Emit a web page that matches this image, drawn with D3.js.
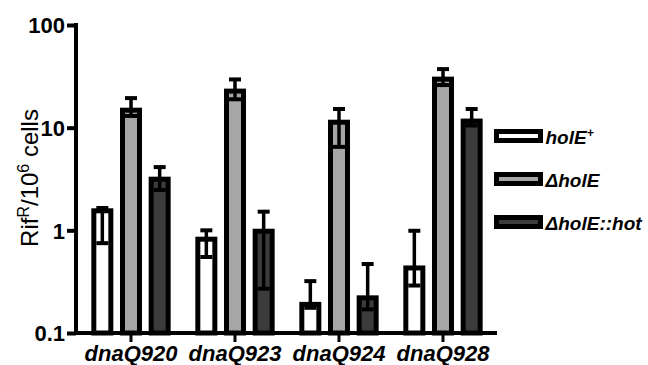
<!DOCTYPE html>
<html>
<head>
<meta charset="utf-8">
<script src="https://cdn.jsdelivr.net/npm/d3@7"></script>
<style>
  body { margin: 0; background: #fff; }
  svg { font-family: "Liberation Sans", Arial, sans-serif; }
</style>
</head>
<body>
<div id="chart"></div>
<script>
const strains = ['dnaQ920', 'dnaQ923', 'dnaQ924', 'dnaQ928'];
const series = ['holE+', 'ΔholE', 'ΔholE::hot'];
const colors = ['#ffffff', '#a6a6a6', '#3c3c3c'];
// mean values per series (one entry per strain)
const holEPlus = [1.55, 0.82, 0.19, 0.43];
const deltaHolE = [14.8, 22.7, 11.3, 29.7];
const deltaHolEHot = [3.15, 0.98, 0.22, 11.6];
// error bar ends (low / high)
const holEPlusLo = [0.75, 0.55, 0.176, 0.29];
const holEPlusHi = [1.65, 1.0, 0.32, 0.99];
const deltaHolELo = [13.0, 18.9, 6.5, 26];
const deltaHolEHi = [19.4, 29.5, 15.2, 37.2];
const deltaHolEHotLo = [2.47, 0.27, 0.17, 10.5];
const deltaHolEHotHi = [4.13, 1.52, 0.47, 15.2];
const yTicks = [0.1, 1, 10, 100];

const values = [holEPlus, deltaHolE, deltaHolEHot];
const lows = [holEPlusLo, deltaHolELo, deltaHolEHotLo];
const highs = [holEPlusHi, deltaHolEHi, deltaHolEHotHi];

const W = 648, H = 365;
const svg = d3.select('#chart').append('svg').attr('width', W).attr('height', H);

const y = d3.scaleLog().domain([0.1, 100]).range([333, 25]);
const x = d3.scaleBand().domain(strains).range([79, 495]);
const xs = d3.scaleBand().domain(series).range([-43, 43]);
const barW = 17;

// bars
series.forEach((s, si) => {
  const g = svg.append('g');
  strains.forEach((st, i) => {
    const cx = x(st) + x.bandwidth() / 2 + xs(s) + xs.bandwidth() / 2;
    const v = values[si][i];
    g.append('rect')
      .attr('x', cx - barW / 2).attr('y', y(v))
      .attr('width', barW).attr('height', y(0.1) - y(v))
      .attr('fill', colors[si]).attr('stroke', '#000').attr('stroke-width', 5);
    const lo = lows[si][i], hi = highs[si][i];
    g.append('line').attr('x1', cx).attr('x2', cx).attr('y1', y(lo)).attr('y2', y(hi))
      .attr('stroke', '#000').attr('stroke-width', 3.5);
    [lo, hi].forEach(e => {
      g.append('line').attr('x1', cx - 6).attr('x2', cx + 6).attr('y1', y(e)).attr('y2', y(e))
        .attr('stroke', '#000').attr('stroke-width', 4);
    });
  });
});

// y axis
const yAxis = svg.append('g').attr('transform', 'translate(76,0)')
  .call(d3.axisLeft(y).tickValues(yTicks).tickFormat(d => d >= 1 ? d3.format('d')(d) : d).tickSize(9).tickSizeOuter(0));
yAxis.select('.domain').attr('stroke-width', 4).attr('d', 'M0,23V335');
yAxis.selectAll('.tick line').attr('stroke-width', 4);
yAxis.selectAll('.tick text').attr('x', -11).attr('dy', '0.36em')
  .style('font-size', '22px').style('font-weight', 'bold').style('font-family', '"Liberation Sans", Arial, sans-serif').attr('fill', '#000');

// x axis
const xAxis = svg.append('g').attr('transform', 'translate(0,333)')
  .call(d3.axisBottom(x).tickSize(9).tickSizeOuter(0));
xAxis.select('.domain').attr('stroke-width', 4).attr('d', 'M74,0H497');
xAxis.selectAll('.tick line').attr('stroke-width', 3);
xAxis.selectAll('.tick text').attr('y', 12).attr('dy', '0.71em')
  .style('font-size', '22px').style('font-weight', 'bold').style('font-style', 'italic')
  .style('font-family', '"Liberation Sans", Arial, sans-serif').attr('fill', '#000');

// y title
const title = svg.append('text').attr('transform', 'translate(38,178) rotate(-90)')
  .attr('text-anchor', 'middle').style('font-size', '24px');
title.append('tspan').text('Rif');
title.append('tspan').text('R').attr('dy', -9).style('font-size', '16px');
title.append('tspan').text('/10').attr('dy', 9);
title.append('tspan').text('6').attr('dy', -9).style('font-size', '16px');
title.append('tspan').text(' cells').attr('dy', 9);

// legend
const leg = svg.append('g').attr('transform', 'translate(496.5,131.5)');
series.forEach((s, i) => {
  const g = leg.append('g').attr('transform', `translate(0,${i * 43})`);
  g.append('rect').attr('width', 44).attr('height', 9)
    .attr('fill', colors[i]).attr('stroke', '#000').attr('stroke-width', 5);
  const t = g.append('text').attr('x', 49).attr('y', 12)
    .style('font-size', '19px').style('font-weight', 'bold').style('font-style', 'italic');
  if (s === 'holE+') {
    t.append('tspan').text('holE');
    t.append('tspan').text('+').attr('dy', -7).style('font-size', '12px');
  } else {
    t.text(s);
  }
});
</script>
</body>
</html>
